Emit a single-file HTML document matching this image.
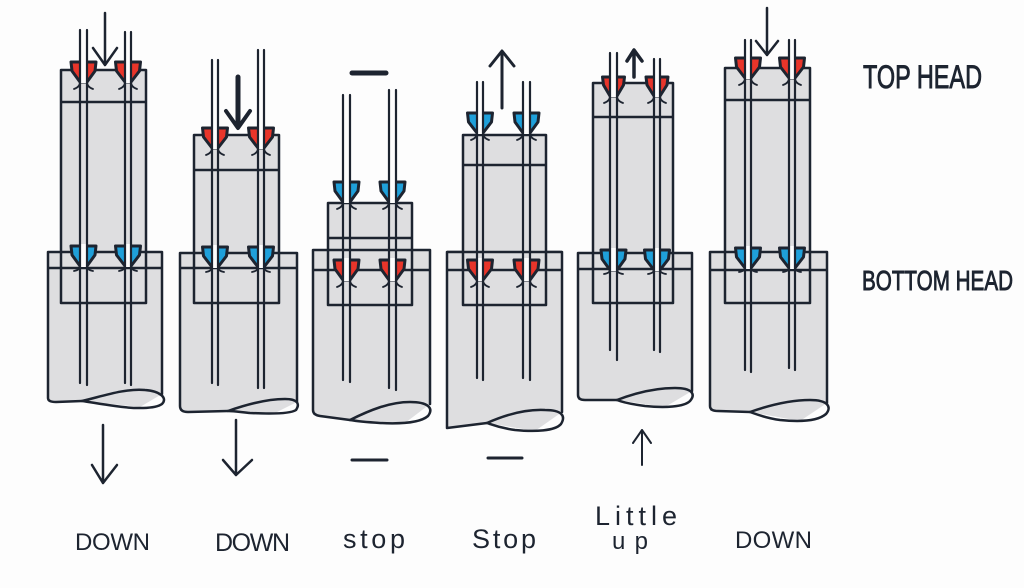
<!DOCTYPE html>
<html><head><meta charset="utf-8"><style>
html,body{margin:0;padding:0;background:#fdfdfd;}
svg{display:block;}
text{font-family:"Liberation Sans",sans-serif;fill:#1d2430;}
</style></head><body>
<svg width="1024" height="588" viewBox="0 0 1024 588" xmlns="http://www.w3.org/2000/svg">
<rect width="1024" height="588" fill="#fdfdfd"/>
<!-- grey shading -->
<g fill="#dedee0">
<rect x="61" y="70" width="85" height="233"/><path d="M48,252 H162 V394 L140,407 L82,401 L48,401 Z"/>
<rect x="194" y="135" width="85" height="168"/><path d="M180,253 H297 V402 L275,413 L228,411 L180,411 Z"/>
<rect x="328" y="203" width="84" height="102"/><path d="M313,250 H430 V404 L405,423 L350,420 L313,415 Z"/>
<rect x="463" y="135" width="83" height="170"/><path d="M447,250 H562 V412 L535,431 L487,423 L447,428 Z"/>
<rect x="593" y="83" width="80" height="220"/><path d="M578,253 H692 V391 L665,407 L617,400 L578,400 Z"/>
<rect x="725" y="68" width="85" height="235"/><path d="M710,252 H827 V403 L800,421 L750,412 L710,411 Z"/>
</g>
<!-- outlines -->
<g fill="none" stroke="#1d2430" stroke-width="2.5" stroke-linejoin="round" stroke-linecap="round">
<path d="M61,70 H146 V303 H61 Z M61,102 H146"/>
<path d="M48,252 H162 M48,268 H162 M48,252 V398 Q48,402 56,402 L82,401 M162,252 V394"/>
<path d="M82,401 C100,397 125,388 145,390 C160,391 168,398 162,404 C155,409 135,409 115,406 C100,404 90,402 82,401"/>
<path d="M194,135 H279 V303 H194 Z M194,170 H279"/>
<path d="M180,253 H297 M180,268 H297 M180,253 V406 Q180,412 188,412 L228,411 M297,253 V402"/>
<path d="M228,411 C245,405 265,399 285,399 C298,399 300,404 296,410 C290,414 270,414 250,413 C240,412 234,411 228,411"/>
<path d="M328,203 H412 V305 H328 Z M328,238 H412"/>
<path d="M313,250 H430 M313,270 H430 M313,250 V410 Q313,415 320,416 L350,420 M430,250 V404"/>
<path d="M350,420 C370,410 390,402 410,402 C428,402 434,408 428,416 C420,423 400,424 380,423 C365,422 356,421 350,420"/>
<path d="M463,135 H546 V305 H463 Z M463,165 H546"/>
<path d="M447,252 H562 M447,270 H562 M447,252 V428 L487,423 M562,252 V412"/>
<path d="M487,423 C505,415 525,409 545,410 C562,410 566,416 561,424 C555,431 535,432 515,430 C500,428 493,425 487,423"/>
<path d="M593,83 H673 V303 H593 Z M593,117 H673"/>
<path d="M578,253 H692 M578,269 H692 M578,253 V395 Q578,400 585,400 L617,400 M692,253 V391"/>
<path d="M617,400 C635,393 655,388 675,388 C692,388 696,394 690,401 C684,407 665,408 645,406 C630,404 622,402 617,400"/>
<path d="M725,68 H810 V303 H725 Z M725,100 H810"/>
<path d="M710,252 H827 M710,270 H827 M710,252 V406 Q710,411 718,411 L750,412 M827,252 V403"/>
<path d="M750,412 C770,405 790,400 810,400 C828,400 832,407 826,414 C818,421 800,422 780,420 C765,418 756,414 750,412"/>
</g>
<!-- arrowheads -->
<g stroke="#1d2430" stroke-width="3" stroke-linejoin="round">
<g fill="#e8352a">
<polygon points="71,62 96,62 95,71 87,82 80,82 72,71"/>
<polygon points="115.5,62 140.5,62 139.5,71 131,82 125,82 116.5,71"/>
<polygon points="202.5,128 227.5,128 226.5,137 218,148 212,148 203.5,137"/>
<polygon points="248.5,128 273.5,128 272.5,137 264,148 258,148 249.5,137"/>
<polygon points="334,260 359,260 358,269 350,280 343,280 335,269"/>
<polygon points="380,260 405,260 404,269 396,280 389,280 381,269"/>
<polygon points="467.5,260 492.5,260 491.5,269 483,280 477,280 468.5,269"/>
<polygon points="514,260 539,260 538,269 530,280 523,280 515,269"/>
<polygon points="602.5,77 624.5,77 623.5,85 617,96 610,96 603.5,85"/>
<polygon points="646,77 668,77 667,85 660,96 654,96 647,85"/>
<polygon points="735.5,58 760.5,58 759.5,67 751,78 745,78 736.5,67"/>
<polygon points="779.5,58 804.5,58 803.5,67 795,78 789,78 780.5,67"/>
</g>
<g fill="#1fa0da">
<polygon points="71,246 96,246 95,255 87,266 80,266 72,255"/>
<polygon points="115.5,246 140.5,246 139.5,255 131,266 125,266 116.5,255"/>
<polygon points="202.5,247 227.5,247 226.5,256 218,267 212,267 203.5,256"/>
<polygon points="248.5,247 273.5,247 272.5,256 264,267 258,267 249.5,256"/>
<polygon points="334,182 359,182 358,191 350,202 343,202 335,191"/>
<polygon points="380,182 405,182 404,191 396,202 389,202 381,191"/>
<polygon points="467.5,113 492.5,113 491.5,122 483,133 477,133 468.5,122"/>
<polygon points="514,113 539,113 538,122 530,133 523,133 515,122"/>
<polygon points="601,250 626,250 625,259 617,270 610,270 602,259"/>
<polygon points="644.5,250 669.5,250 668.5,259 660,270 654,270 645.5,259"/>
<polygon points="735.5,248 760.5,248 759.5,257 751,268 745,268 736.5,257"/>
<polygon points="779.5,248 804.5,248 803.5,257 795,268 789,268 780.5,257"/>
</g>
</g>
<!-- white gaps between rod lines at arrowheads -->
<g fill="#fdfdfd">
<rect x="81" y="60" width="5" height="23"/><rect x="126" y="60" width="4" height="23"/>
<rect x="81" y="244" width="5" height="23"/><rect x="126" y="244" width="4" height="23"/>
<rect x="213" y="126" width="4" height="23"/><rect x="259" y="126" width="4" height="23"/>
<rect x="213" y="245" width="4" height="23"/><rect x="259" y="245" width="4" height="23"/>
<rect x="344" y="180" width="5" height="23"/><rect x="390" y="180" width="5" height="23"/>
<rect x="344" y="258" width="5" height="23"/><rect x="390" y="258" width="5" height="23"/>
<rect x="478" y="111" width="4" height="23"/><rect x="524" y="111" width="5" height="23"/>
<rect x="478" y="258" width="4" height="23"/><rect x="524" y="258" width="5" height="23"/>
<rect x="611" y="75" width="5" height="22"/><rect x="655" y="75" width="4" height="22"/>
<rect x="611" y="248" width="5" height="23"/><rect x="655" y="248" width="4" height="23"/>
<rect x="746" y="56" width="4" height="23"/><rect x="790" y="56" width="4" height="23"/>
<rect x="746" y="246" width="4" height="23"/><rect x="790" y="246" width="4" height="23"/>
</g>
<!-- rods -->
<g stroke="#1d2430" stroke-width="2.2" stroke-linecap="round" fill="none">
<path d="M80,30 V383 M87,30 V385 M125,32 V383 M131,32 V385"/>
<path d="M212,60 V383 M218,60 V385 M258,50 V388 M264,50 V388"/>
<path d="M343,95 V380 M350,95 V382 M389,90 V388 M396,90 V390"/>
<path d="M477,82 V378 M483,82 V380 M523,82 V378 M530,82 V380"/>
<path d="M610,53 V350 M617,53 V360 M654,59 V350 M660,59 V352"/>
<path d="M745,40 V370 M751,40 V372 M789,40 V368 M795,40 V370"/>
</g>
<g stroke="#1d2430" stroke-width="1.8" stroke-linecap="round" fill="none">
<path d="M80,82 Q80,87 74,89 M87,82 Q87,87 93,89 M125,82 Q125,87 119,89 M131,82 Q131,87 137,89"/>
<path d="M80,266 Q80,270 74,271 M87,266 Q87,270 93,271 M125,266 Q125,270 119,271 M131,266 Q131,270 137,271"/>
<path d="M212,148 Q212,153 206,155 M218,148 Q218,153 224,155 M258,148 Q258,153 252,155 M264,148 Q264,153 270,155"/>
<path d="M212,267 Q212,271 206,272 M218,267 Q218,271 224,272 M258,267 Q258,271 252,272 M264,267 Q264,271 270,272"/>
<path d="M343,202 Q343,207 337,209 M350,202 Q350,207 356,209 M389,202 Q389,207 383,209 M396,202 Q396,207 402,209"/>
<path d="M343,280 Q343,285 337,287 M350,280 Q350,285 356,287 M389,280 Q389,285 383,287 M396,280 Q396,285 402,287"/>
<path d="M477,133 Q477,138 471,140 M483,133 Q483,138 489,140 M523,133 Q523,138 517,140 M530,133 Q530,138 536,140"/>
<path d="M477,280 Q477,285 471,287 M483,280 Q483,285 489,287 M523,280 Q523,285 517,287 M530,280 Q530,285 536,287"/>
<path d="M610,96 Q610,101 604,103 M617,96 Q617,101 623,103 M654,96 Q654,101 648,103 M660,96 Q660,101 666,103"/>
<path d="M610,270 Q610,273 604,274 M617,270 Q617,273 623,274 M654,270 Q654,273 648,274 M660,270 Q660,273 666,274"/>
<path d="M745,78 Q745,83 739,85 M751,78 Q751,83 757,85 M789,78 Q789,83 783,85 M795,78 Q795,83 801,85"/>
<path d="M745,268 Q745,271 739,272 M751,268 Q751,271 757,272 M789,268 Q789,271 783,272 M795,268 Q795,271 801,272"/>
</g>
<!-- motion arrows -->
<g stroke="#1d2430" fill="none" stroke-linecap="round" stroke-linejoin="round">
<path d="M105,13 V65 M93,48 L105,65 L117,48" stroke-width="2.5"/>
<path d="M238,77 V126" stroke-width="5"/>
<path d="M226,111 L238,128 L250,111" stroke-width="4"/>
<path d="M352,73 H386" stroke-width="5"/>
<path d="M502,108 V52 M490,66 L502,51 L514,66" stroke-width="3"/>
<path d="M634,77 V51 M627,61 L634,50 L642,61" stroke-width="3.5"/>
<path d="M767,8 V55 M756,41 L767,55 L778,41" stroke-width="2.5"/>
<path d="M103,425 V483 M92,465 L103,483 L117,465" stroke-width="2.5"/>
<path d="M236,420 V475 M223,460 L236,475 L252,460" stroke-width="2.5"/>
<path d="M352,460 H387" stroke-width="3"/>
<path d="M488,458 H522" stroke-width="3"/>
<path d="M642,465 V430 M633,443 L642,430 L651,443" stroke-width="2"/>
</g>
<!-- labels -->
<text x="75" y="550" font-size="24" textLength="75" lengthAdjust="spacing">DOWN</text>
<text x="215" y="551" font-size="25" textLength="75" lengthAdjust="spacing">DOWN</text>
<text x="343" y="548" font-size="27" textLength="62" lengthAdjust="spacing">stop</text>
<text x="472" y="548" font-size="27" textLength="64" lengthAdjust="spacing">Stop</text>
<text x="595" y="525" font-size="27" textLength="82" lengthAdjust="spacing">Little</text>
<text x="612" y="549" font-size="24" textLength="36" lengthAdjust="spacing">up</text>
<text x="735" y="548" font-size="24" textLength="77" lengthAdjust="spacing">DOWN</text>
<g stroke="#1d2430" stroke-width="0.9">
<text x="863" y="88" font-size="32" textLength="119" lengthAdjust="spacingAndGlyphs">TOP HEAD</text>
<text x="862" y="290" font-size="28" textLength="151" lengthAdjust="spacingAndGlyphs">BOTTOM HEAD</text>
</g>
</svg>
</body></html>
